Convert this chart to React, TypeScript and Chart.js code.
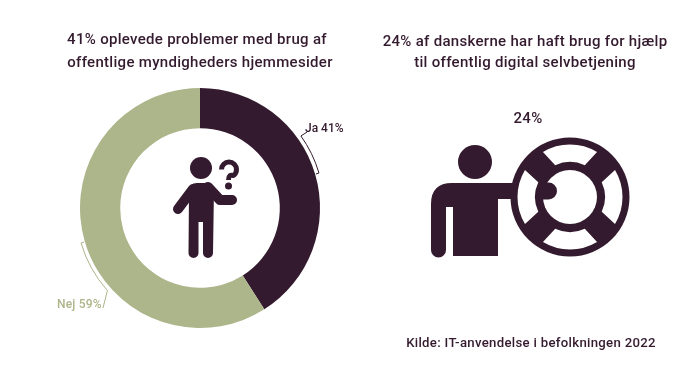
import React, { useEffect, useRef } from "react";
import { Chart, registerables } from "chart.js";

Chart.register(...registerables);

const categories = ["Ja", "Nej"];
const shares = [41, 59];
const helpShare = 24;
const leftTitle = ["41% oplevede problemer med brug af", "offentlige myndigheders hjemmesider"];
const rightTitle = ["24% af danskerne har haft brug for hjælp", "til offentlig digital selvbetjening"];
const source = "Kilde: IT-anvendelse i befolkningen 2022";

const DARK = "#341a2e";
const GREEN = "#adb58a";
const FONT = '500 15px Roboto, sans-serif';

function text(ctx: CanvasRenderingContext2D, s: string, x: number, y: number, color = DARK, font = FONT, spacing = "0.3px", align: CanvasTextAlign = "center") {
  ctx.font = font;
  (ctx as any).letterSpacing = spacing;
  ctx.fillStyle = color;
  ctx.textAlign = align;
  ctx.textBaseline = "middle";
  ctx.fillText(s, x, y);
}

function thinker(ctx: CanvasRenderingContext2D) {
  ctx.fillStyle = DARK;
  ctx.strokeStyle = DARK;
  ctx.lineCap = "round";
  ctx.lineJoin = "round";
  ctx.beginPath();
  ctx.arc(201, 168, 11, 0, Math.PI * 2);
  ctx.fill();
  // torso and legs
  ctx.beginPath();
  ctx.moveTo(189, 192);
  ctx.quadraticCurveTo(189, 183, 197, 183);
  ctx.lineTo(206, 183);
  ctx.quadraticCurveTo(212, 183, 214, 188);
  ctx.lineTo(213, 253);
  ctx.arc(208, 253, 5, 0, Math.PI);
  ctx.lineTo(203, 222);
  ctx.lineTo(198.5, 222);
  ctx.lineTo(198.5, 253);
  ctx.arc(193.5, 253, 5, 0, Math.PI);
  ctx.closePath();
  ctx.fill();
  // arms
  ctx.lineWidth = 10;
  ctx.beginPath();
  ctx.moveTo(193, 189);
  ctx.lineTo(178, 209);
  ctx.stroke();
  ctx.beginPath();
  ctx.moveTo(208, 187);
  ctx.lineTo(220, 200);
  ctx.lineTo(232, 200);
  ctx.stroke();
  // question mark
  ctx.lineWidth = 5;
  ctx.lineCap = "butt";
  ctx.beginPath();
  ctx.arc(229, 169.5, 7.5, Math.PI * 1.0, Math.PI * 2.3);
  ctx.quadraticCurveTo(228.5, 174, 228.5, 180);
  ctx.stroke();
  ctx.beginPath();
  ctx.arc(228.5, 186, 3.5, 0, Math.PI * 2);
  ctx.fill();
}

function lifebuoy(ctx: CanvasRenderingContext2D) {
  const cx = 570, cy = 197;
  const rad = (d: number) => (d * Math.PI) / 180;
  ctx.fillStyle = DARK;
  ctx.beginPath();
  ctx.arc(475, 162, 17, 0, Math.PI * 2);
  ctx.fill();
  // body with raised arm
  ctx.beginPath();
  ctx.moveTo(431, 250);
  ctx.lineTo(431, 204);
  ctx.quadraticCurveTo(431, 183, 452, 183);
  ctx.lineTo(520, 183);
  ctx.lineTo(520, 199);
  ctx.lineTo(498, 199);
  ctx.lineTo(498, 256);
  ctx.lineTo(453, 256);
  ctx.lineTo(453, 207);
  ctx.lineTo(446, 207);
  ctx.lineTo(446, 250);
  ctx.arc(438.5, 250, 7.5, 0, Math.PI);
  ctx.closePath();
  ctx.fill();
  // ring
  ctx.beginPath();
  ctx.arc(cx, cy, 59.5, 0, Math.PI * 2);
  ctx.fill();
  ctx.fillStyle = "#ffffff";
  for (const mid of [-90, 0, 90, 180]) {
    ctx.beginPath();
    ctx.arc(cx, cy, 52.5, rad(mid - 31), rad(mid + 31));
    ctx.arc(cx, cy, 35, rad(mid + 25), rad(mid - 25), true);
    ctx.closePath();
    ctx.fill();
  }
  ctx.beginPath();
  ctx.arc(cx, cy, 27, 0, Math.PI * 2);
  ctx.fill();
  // hand
  ctx.fillStyle = DARK;
  ctx.beginPath();
  ctx.arc(548.5, 191, 8.5, -Math.PI / 2, Math.PI / 2);
  ctx.lineTo(543, 199.5);
  ctx.lineTo(543, 182.5);
  ctx.closePath();
  ctx.fill();
}

function bracket(ctx: CanvasRenderingContext2D, chart: any, color: string, from: number, to: number, ccw: boolean, a: [number, number], b: [number, number]) {
  const arc = chart.getDatasetMeta(0).data[0];
  const rad = (d: number) => (d * Math.PI) / 180;
  ctx.strokeStyle = color;
  ctx.lineWidth = 1;
  ctx.beginPath();
  ctx.moveTo(a[0], a[1]);
  ctx.arc(arc.x, arc.y, arc.outerRadius + 4, rad(from), rad(to), ccw);
  ctx.lineTo(b[0], b[1]);
  ctx.stroke();
}

const overlay = {
  id: "overlay",
  afterDraw(chart: any) {
    const ctx: CanvasRenderingContext2D = chart.ctx;
    ctx.save();
    text(ctx, leftTitle[0], 197, 40.5);
    text(ctx, leftTitle[1], 200, 63.5);
    text(ctx, rightTitle[0], 525, 42.5);
    text(ctx, rightTitle[1], 525, 63.5);
    text(ctx, `${helpShare}%`, 528, 119);
    text(ctx, source, 531, 344, DARK, '500 13.2px Roboto, sans-serif', "0.3px");
    text(ctx, `${categories[0]} ${shares[0]}%`, 305, 129, DARK, '500 12px Roboto, sans-serif', "0px", "left");
    text(ctx, `${categories[1]} ${shares[1]}%`, 57, 305, GREEN, '500 12px Roboto, sans-serif', "0.2px", "left");
    bracket(ctx, chart, DARK, -35.5, -16.4, false, [307, 132], [316, 174]);
    bracket(ctx, chart, GREEN, 163.6, 138.3, true, [84, 242], [103, 308]);
    thinker(ctx);
    lifebuoy(ctx);
    ctx.restore();
  },
};

export default function App() {
  const ref = useRef<HTMLCanvasElement>(null);
  useEffect(() => {
    document.body.style.margin = "0";
    document.body.style.background = "#ffffff";
    const chart = new Chart(ref.current!, {
      type: "doughnut",
      data: {
        labels: categories,
        datasets: [{ data: shares, backgroundColor: [DARK, GREEN], borderWidth: 0 }],
      },
      options: {
        responsive: false,
        animation: false,
        cutout: "66.5%",
        layout: { padding: { left: 80, right: 380, top: 88, bottom: 41 } },
        plugins: { legend: { display: false }, tooltip: { enabled: false } },
      },
      plugins: [overlay],
    });
    return () => chart.destroy();
  }, []);
  return <canvas ref={ref} width={700} height={369} style={{ display: "block" }} />;
}
